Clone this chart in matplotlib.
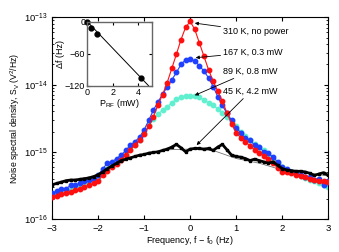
import numpy as np
import matplotlib
matplotlib.use("Agg")
import matplotlib.pyplot as plt
from matplotlib.ticker import LogLocator, NullFormatter

plt.rcParams['font.family'] = ['Liberation Sans', 'DejaVu Sans']
plt.rcParams['mathtext.default'] = 'regular'
plt.rcParams['font.size'] = 6.5

# frequency offset f - f0 (Hz), 0.1 Hz steps from -3 to 3
freq = np.round(np.arange(-30, 31) / 10.0, 1)

# log10 of noise spectral density (V^2/Hz)
logS_310K = [-15.68, -15.66, -15.63, -15.62, -15.60, -15.57, -15.55, -15.52, -15.50, -15.47,
             -15.43, -15.35, -15.28, -15.23, -15.18, -15.12, -15.05, -14.97, -14.90, -14.82,
             -14.74, -14.62, -14.48, -14.30, -14.15, -13.97, -13.76, -13.55, -13.33, -13.15,
             -13.06,
             -13.18, -13.38, -13.58, -13.78, -13.95, -14.10, -14.25, -14.42, -14.58, -14.72,
             -14.79, -14.85, -14.91, -14.97, -15.02, -15.06, -15.10, -15.17, -15.24, -15.30,
             -15.30, -15.32, -15.34, -15.36, -15.38, -15.40, -15.42, -15.44, -15.43, -15.45]

logS_167K = [-15.62, -15.58, -15.55, -15.55, -15.50, -15.50, -15.47, -15.43, -15.42, -15.40,
             -15.35, -15.25, -15.17, -15.15, -15.10, -15.05, -14.98, -14.90, -14.85, -14.78,
             -14.67, -14.53, -14.38, -14.26, -14.14, -14.04, -13.93, -13.82, -13.70, -13.63,
             -13.62,
             -13.65, -13.72, -13.80, -13.90, -14.03, -14.18, -14.31, -14.43, -14.53, -14.64,
             -14.72, -14.80, -14.83, -14.90, -14.93, -15.00, -15.02, -15.08, -15.15, -15.22,
             -15.26, -15.30, -15.32, -15.34, -15.37, -15.38, -15.42, -15.40, -15.50, -15.43]

logS_89K = [-15.66, -15.63, -15.62, -15.60, -15.57, -15.55, -15.52, -15.50, -15.47, -15.44,
            -15.40, -15.32, -15.25, -15.20, -15.15, -15.10, -15.03, -14.96, -14.90, -14.82,
            -14.72, -14.60, -14.51, -14.44, -14.38, -14.33, -14.27, -14.22, -14.18, -14.17,
            -14.17,
            -14.17, -14.19, -14.23, -14.27, -14.31, -14.36, -14.42, -14.48, -14.55, -14.62,
            -14.70, -14.77, -14.83, -14.88, -14.93, -14.98, -15.03, -15.10, -15.17, -15.23,
            -15.27, -15.30, -15.33, -15.36, -15.39, -15.42, -15.44, -15.46, -15.50, -15.52]

logS_45K = [-15.49, -15.47, -15.45, -15.43, -15.42, -15.42, -15.41, -15.40, -15.39, -15.37,
            -15.34, -15.30, -15.25, -15.21, -15.17, -15.13, -15.11, -15.09, -15.07, -15.05,
            -15.04, -15.02, -15.01, -15.00, -14.98, -14.96, -14.93, -14.89, -14.94, -15.00,
            -14.96,
            -14.95, -14.95, -14.96, -14.95, -14.98, -14.93, -14.89, -14.97, -15.05, -15.07,
            -15.08, -15.10, -15.13, -15.11, -15.13, -15.15, -15.17, -15.15, -15.20, -15.25,
            -15.27, -15.28, -15.29, -15.29, -15.30, -15.32, -15.35, -15.33, -15.31, -15.35]

# fitted curve under the 45 K data
fit45_f = [-3, -2.5, -2, -1.5, -1, -0.5, 0, 0.5, 1, 1.5, 2, 2.5, 3]
fit45_logS = [-15.49, -15.42, -15.34, -15.13, -15.04, -14.97, -14.96, -14.98,
              -15.10, -15.17, -15.27, -15.31, -15.36]

# inset: frequency shift vs RF power
p_rf = [0, 0.3, 0.8, 4.2]
delta_f = [0, -11, -24, -106]
fit_p = [0, 4.8]
fit_df = [0, -120]

labels = ["310 K, no power", "167 K, 0.3 mW", "89 K, 0.8 mW", "45 K, 4.2 mW"]
colors = ["#ff1010", "#2040ff", "#60f0d0", "black"]
yticks = [1e-16, 1e-15, 1e-14, 1e-13]
ytick_labels = ["$10^{-16}$", "$10^{-15}$", "$10^{-14}$", "$10^{-13}$"]


def main():
    fig = plt.figure(figsize=(3.39, 2.52), dpi=100)
    ax = fig.add_axes([0.154, 0.131, 0.814, 0.800])

    S_list = [10 ** np.array(v) for v in (logS_310K, logS_167K, logS_89K)]

    ax.plot(fit45_f, 10 ** np.array(fit45_logS), color="0.45", lw=0.6, zorder=1)
    # cyan first, then blue, then red on top
    for S, c, z in zip(S_list[::-1], colors[2::-1], [2, 3, 4]):
        ax.plot(freq, S, "-o", color=c, lw=0.8, ms=3.2, mec=c, zorder=z)
    ax.plot(freq, 10 ** np.array(logS_45K), "-s", color="black", lw=2.0, ms=1.6, zorder=5)

    ax.set_yscale("log")
    ax.set_xlim(-3, 3)
    ax.set_ylim(1e-16, 1e-13)
    ax.set_xticks([-3, -2, -1, 0, 1, 2, 3])
    ax.set_yticks(yticks)
    ax.set_yticklabels(ytick_labels)
    ax.yaxis.set_minor_locator(LogLocator(base=10, subs=np.arange(2, 10)))
    ax.yaxis.set_minor_formatter(NullFormatter())
    ax.tick_params(which="both", direction="in", top=True, right=True, labelsize=6.8)
    ax.tick_params(which="major", length=3)
    ax.tick_params(which="minor", length=1.5)
    ax.set_xlabel("Frequency, f \u2212 f$_0$ (Hz)", fontsize=6.5, labelpad=1)
    ax.set_ylabel("Noise spectral density, S$_V$ (V$^2$/Hz)", fontsize=6.2, labelpad=1)

    # arrows to curves
    tips = [(0.1, 10 ** -13.085), (0.12, 10 ** -13.6), (0.1, 10 ** -14.16), (0.14, 10 ** -14.9)]
    text_y = [10 ** -13.21, 10 ** -13.52, 10 ** -13.80, 10 ** -14.10]
    for lab, tip, ty in zip(labels, tips, text_y):
        ax.annotate(lab, xy=tip, xytext=(0.72, ty), fontsize=6.5, ha="left", va="center",
                    arrowprops=dict(arrowstyle="-|>", color="black", lw=0.6,
                                    mutation_scale=5, shrinkA=0, shrinkB=0),
                    zorder=6)

    # inset
    ins = fig.add_axes([0.2575, 0.66, 0.19, 0.254])
    ins.plot(fit_p, fit_df, color="black", lw=0.7)
    ins.plot(p_rf, delta_f, "o", color="black", ms=3.5, clip_on=False)
    ins.set_xlim(0, 5.05)
    ins.set_ylim(-120, 0)
    ins.set_xticks([0, 2, 4])
    ins.set_yticks([0, -60, -120])
    ins.tick_params(direction="in", top=True, right=True, labelsize=6.5, length=2, pad=1.5)
    for sp in ins.spines.values():
        sp.set_color("0.4")
        sp.set_linewidth(1.0)
    ins.set_xlabel("P$_{RF}$ (mW)", fontsize=6.5, labelpad=0.5)
    ins.set_ylabel("\u0394f (Hz)", fontsize=6.5, labelpad=0)

    fig.savefig("out.png", dpi=100)


main()
